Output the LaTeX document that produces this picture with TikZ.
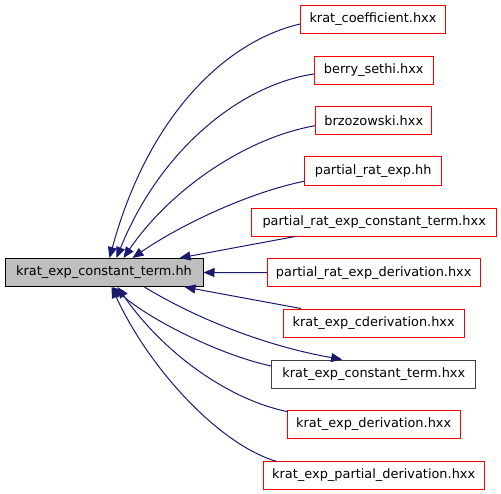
\documentclass[tikz,border=0pt]{standalone}
\usepackage{fontspec}
\setmainfont{DejaVu Sans}
\usetikzlibrary{arrows.meta,calc}
\definecolor{edgeblue}{HTML}{191970}
\definecolor{mainfill}{HTML}{BFBFBF}
\definecolor{darkborder}{HTML}{404040}
\definecolor{boxred}{HTML}{FF0000}
\tikzset{
  filebox/.style={draw=boxred, line width=1pt, minimum height=28pt, inner sep=0pt, font=\fontsize{12.9}{15}\selectfont},
  mainbox/.style={draw=black, fill=mainfill, line width=1pt, minimum height=28pt, inner sep=0pt, font=\fontsize{12.9}{15}\selectfont},
  selfbox/.style={draw=darkborder, line width=1pt, minimum height=28pt, inner sep=0pt, font=\fontsize{12.9}{15}\selectfont},
  dep/.style={draw=edgeblue, line width=1pt, -{Triangle[length=11pt,width=9pt]}},
}
\begin{document}
\begin{tikzpicture}[x=1pt,y=-1pt]
\useasboundingbox (0,0) rectangle (501,493);
\node[mainbox, minimum width=198pt] (main) at (104,272.5) {krat\_exp\_constant\_term.hh};
\node[filebox, minimum width=144.6pt] (kc) at (373,19) {krat\_coefficient.hxx};
\node[filebox, minimum width=119pt] (bs) at (373.8,70) {berry\_sethi.hxx};
\node[filebox, minimum width=116.3pt] (bz) at (373.8,120.7) {brzozowski.hxx};
\node[filebox, draw=none, minimum width=136.3pt] (preh) at (373.2,171.2) {partial\_rat\_exp.hh};
\draw[draw=boxred, line width=1.2pt] (preh.north west) rectangle (preh.south east);
\node[filebox, minimum width=245pt] (prect) at (374.2,222) {partial\_rat\_exp\_constant\_term.hxx};
\node[filebox, minimum width=212.7pt] (pred) at (373.7,272.7) {partial\_rat\_exp\_derivation.hxx};
\node[filebox, minimum width=180.7pt] (kcd) at (373.7,323) {krat\_exp\_cderivation.hxx};
\node[selfbox, minimum width=204.3pt] (kct) at (373.8,374) {krat\_exp\_constant\_term.hxx};
\node[filebox, minimum width=172.7pt] (kd) at (373.7,424.2) {krat\_exp\_derivation.hxx};
\node[filebox, minimum width=220.7pt] (kpd) at (373.7,475) {krat\_exp\_partial\_derivation.hxx};

\draw[dep] ($(kc.west)+(0,5)$) .. controls (230,40) and (150,110) .. ($(main.north west)+(105,0)$);
\draw[dep] ($(bs.west)+(0,4)$) .. controls (240,85) and (160,150) .. ($(main.north west)+(112,0)$);
\draw[dep] ($(bz.west)+(0,5)$) .. controls (245,138) and (170,190) .. ($(main.north west)+(119,0)$);
\draw[dep] ($(preh.west)+(0,10)$) .. controls (250,192) and (180,225) .. ($(main.north west)+(128,0)$);
\draw[dep] ($(prect.south west)+(44,0)$) -- ($(main.north west)+(175,0)$);
\draw[dep] (pred.west) -- (main.east);
\draw[dep] ($(kcd.north west)+(18,0)$) -- ($(main.south west)+(180,0)$);
\draw[dep] ($(main.south west)+(140,0)$) .. controls (190,315) and (260,345) .. ($(kct.north west)+(71,0)$);
\draw[dep] ($(kct.west)+(0,-8)$) .. controls (220,355) and (150,320) .. ($(main.south west)+(108,0)$);
\draw[dep] ($(kd.north west)+(1,2)$) .. controls (230,400) and (165,355) .. ($(main.south west)+(113,0)$);
\draw[dep] ($(kpd.north west)+(14,1)$) .. controls (220,445) and (150,370) .. ($(main.south west)+(107,0)$);
\end{tikzpicture}
\end{document}
